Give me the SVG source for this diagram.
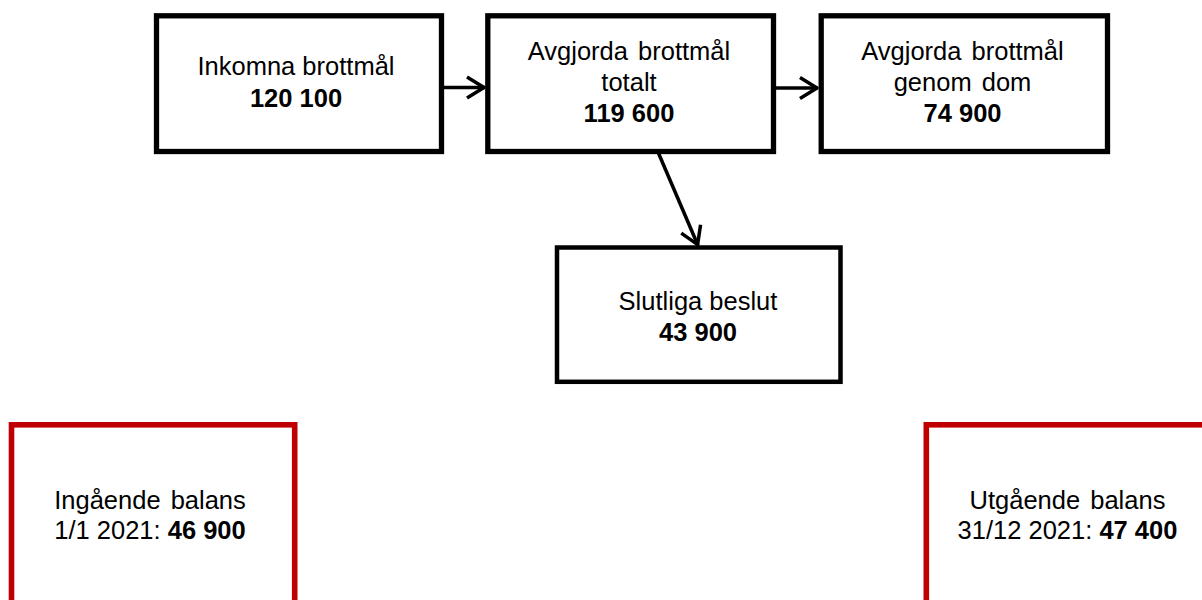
<svg xmlns="http://www.w3.org/2000/svg" width="1202" height="600" viewBox="0 0 1202 600">
  <style>
    .box { fill: #ffffff; stroke: #000000; stroke-width: 5.3; }
    .box-thin { fill: #ffffff; stroke: #000000; stroke-width: 4.5; }
    .balance { fill: #ffffff; stroke: #C00000; stroke-width: 5.6; }
    .lbl { font-family: "Liberation Sans", Arial, sans-serif; font-size: 25.5px; fill: #000000; text-anchor: middle; }
    .num { font-weight: bold; }
    .wide { word-spacing: 3px; }
    .conn { stroke: #000000; stroke-width: 3.5; fill: none; marker-end: url(#arrow); }
  </style>
  <defs>
    <marker id="arrow" markerUnits="userSpaceOnUse" markerWidth="30" markerHeight="30" refX="0" refY="0" orient="auto" overflow="visible">
      <path d="M-18,-10.5 L-1,0 L-18,10.5" fill="none" stroke="#000000" stroke-width="3.5" stroke-linejoin="round"/>
    </marker>
  </defs>

  <rect width="1202" height="600" fill="#ffffff"/>

  <!-- flow connectors -->
  <g id="connectors">
    <line class="conn" x1="444" y1="87.5" x2="485" y2="87.5"/>
    <line class="conn" x1="776" y1="88" x2="818" y2="88"/>
    <line class="conn" x1="658" y1="152" x2="698" y2="245.5"/>
  </g>

  <g id="inkomna">
    <rect class="box" x="156.5" y="15.8" width="285" height="135.7"/>
    <text class="lbl" x="296" y="75">Inkomna brottmål</text>
    <text class="lbl num" x="296" y="107">120 100</text>
  </g>

  <g id="avgjorda-totalt">
    <rect class="box" x="487.8" y="15.8" width="285.7" height="135.7"/>
    <text class="lbl wide" x="629" y="60">Avgjorda brottmål</text>
    <text class="lbl" x="629" y="91">totalt</text>
    <text class="lbl num" x="629" y="122">119 600</text>
  </g>

  <g id="avgjorda-dom">
    <rect class="box" x="821.2" y="15.8" width="286.3" height="135.7"/>
    <text class="lbl wide" x="962.5" y="60">Avgjorda brottmål</text>
    <text class="lbl wide" x="962.5" y="91">genom dom</text>
    <text class="lbl num" x="962.5" y="122">74 900</text>
  </g>

  <g id="slutliga-beslut">
    <rect class="box-thin" x="557" y="247.5" width="283.5" height="134.3"/>
    <text class="lbl" x="698" y="310">Slutliga beslut</text>
    <text class="lbl num" x="698" y="341">43 900</text>
  </g>

  <g id="ingaende-balans">
    <rect class="balance" x="11.5" y="424.8" width="283.2" height="200"/>
    <text class="lbl wide" x="150" y="509.3">Ingående balans</text>
    <text class="lbl" x="150" y="539.3">1/1 2021: <tspan class="num">46 900</tspan></text>
  </g>

  <g id="utgaende-balans">
    <rect class="balance" x="926.3" y="424.8" width="300" height="200"/>
    <text class="lbl wide" x="1067.5" y="509.3">Utgående balans</text>
    <text class="lbl" x="1067.5" y="539.3">31/12 2021: <tspan class="num">47 400</tspan></text>
  </g>
</svg>
